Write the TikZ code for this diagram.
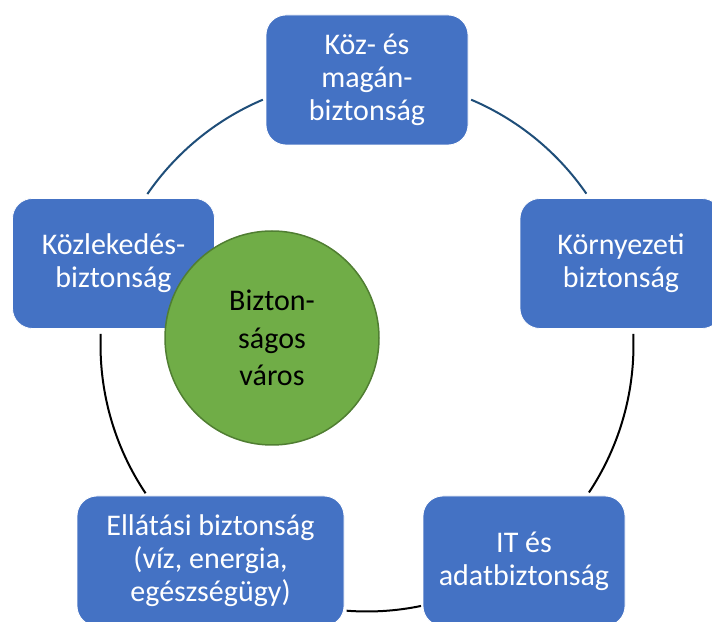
\documentclass[tikz,border=0pt]{standalone}
\usepackage{fontspec}
\setmainfont{Carlito}
\definecolor{boxblue}{HTML}{4472C4}
\definecolor{cgreen}{HTML}{70AD47}
\definecolor{cgreenedge}{HTML}{507E32}
\definecolor{arcblue}{HTML}{1F4E79}
\begin{document}
\begin{tikzpicture}[x=1pt,y=1pt,
  box/.style={draw=white, line width=0.8pt, fill=boxblue, rounded corners=20pt,
    minimum width=202pt, minimum height=130pt, text=white, align=center,
    font=\fontsize{30}{33}\selectfont, inner sep=0pt},
  hub/.style={circle, draw=cgreenedge, line width=1.5pt, fill=cgreen, minimum size=214pt,
    inner sep=0pt, align=center, text=black, font=\fontsize{30}{37.5}\selectfont},
  ring/.style={line width=2pt},
]
\useasboundingbox (0,0) rectangle (712,621);
\clip (0,0) rectangle (712,621);
\coordinate (ctr) at (367,276);
\def\R{266.5}
% arcs
\draw[ring, draw=arcblue] ([shift={(113:\R)}]ctr) arc[start angle=113, end angle=145.5, radius=\R];
\draw[ring, draw=arcblue] ([shift={(34.6:\R)}]ctr) arc[start angle=34.6, end angle=67, radius=\R];
\draw[ring, draw=black] ([shift={(177.6:\R)}]ctr) arc[start angle=177.6, end angle=213.8, radius=\R];
\draw[ring, draw=black] ([shift={(265.6:\R)}]ctr) arc[start angle=265.6, end angle=281.7, radius=\R];
\draw[ring, draw=black] ([shift={(326.4:\R)}]ctr) arc[start angle=326.4, end angle=362.4, radius=\R];
% boxes
\node[box] (top) at (367,541) {Köz- és\\magán-\\biztonság};
\node[box] (right) at (621,357.5) {Környezeti\\biztonság};
\node[box] (left) at (113.5,357.5) {Közlekedés-\\biztonság};
\node[box, minimum width=267pt] (bl) at (210.5,60) {Ellátási biztonság\\(víz, energia,\\egészségügy)};
\node[box] (br) at (524,60) {IT és\\adatbiztonság};
% hub
\node[hub] (city) at (272,283) {Bizton-\\ságos\\város};
\end{tikzpicture}
\end{document}
